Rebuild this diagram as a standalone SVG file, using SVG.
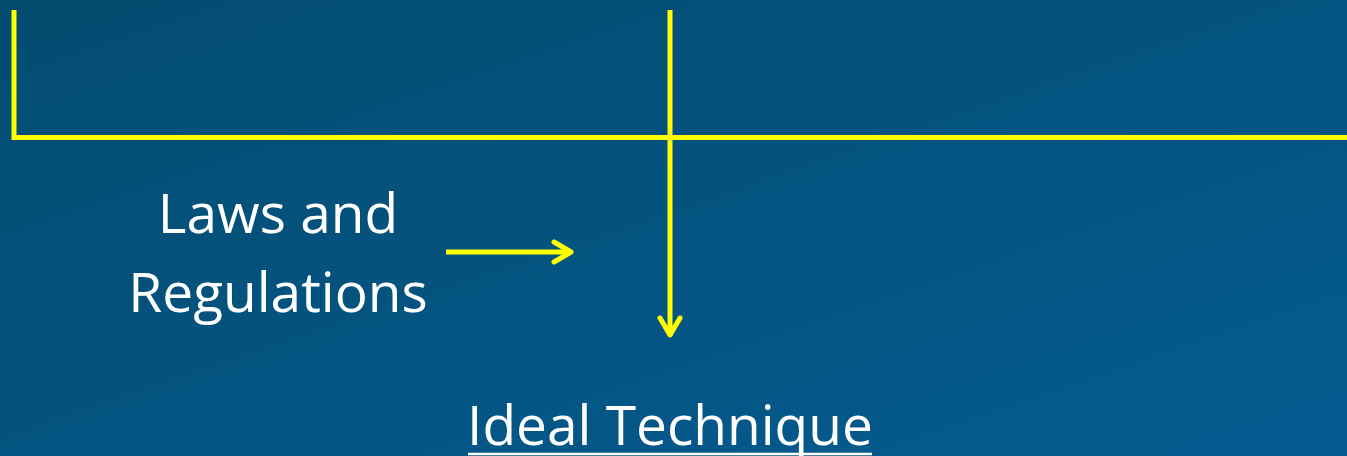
<svg xmlns="http://www.w3.org/2000/svg" width="1347" height="456" viewBox="0 0 1347 456">
<style>
.ln{stroke:#ffff00;stroke-width:5;fill:none}
.t{font-family:"Open Sans","Liberation Sans",sans-serif;fill:#ffffff;text-anchor:middle}
</style>
<defs>
<linearGradient id="bg" x1="0" y1="0" x2="1" y2="1">
<stop offset="0" stop-color="#034c6f"/>
<stop offset="1" stop-color="#055b91"/>
</linearGradient>
</defs>
<rect width="1347" height="456" fill="url(#bg)"/>
<g id="connectors">
<path class="ln" d="M14 10 V137.5 H1347"/>
<path class="ln" d="M670 10 V336"/>
<path class="ln" d="M660 318 L670 335 L680 318" stroke-linecap="round" stroke-linejoin="round"/>
<path class="ln" d="M446 252 H571"/>
<path class="ln" d="M554 242 L571 252 L554 262" stroke-linecap="round" stroke-linejoin="round"/>
</g>
<g id="laws">
<text class="t" x="278" y="233" font-size="55">Laws and</text>
<text class="t" x="278" y="312" font-size="55">Regulations</text>
</g>
<g id="ideal">
<text class="t" x="670" y="445" font-size="55">Ideal Technique</text>
<line x1="468" y1="454" x2="872" y2="454" stroke="#ffffff" stroke-width="2.5"/>
</g>
</svg>
